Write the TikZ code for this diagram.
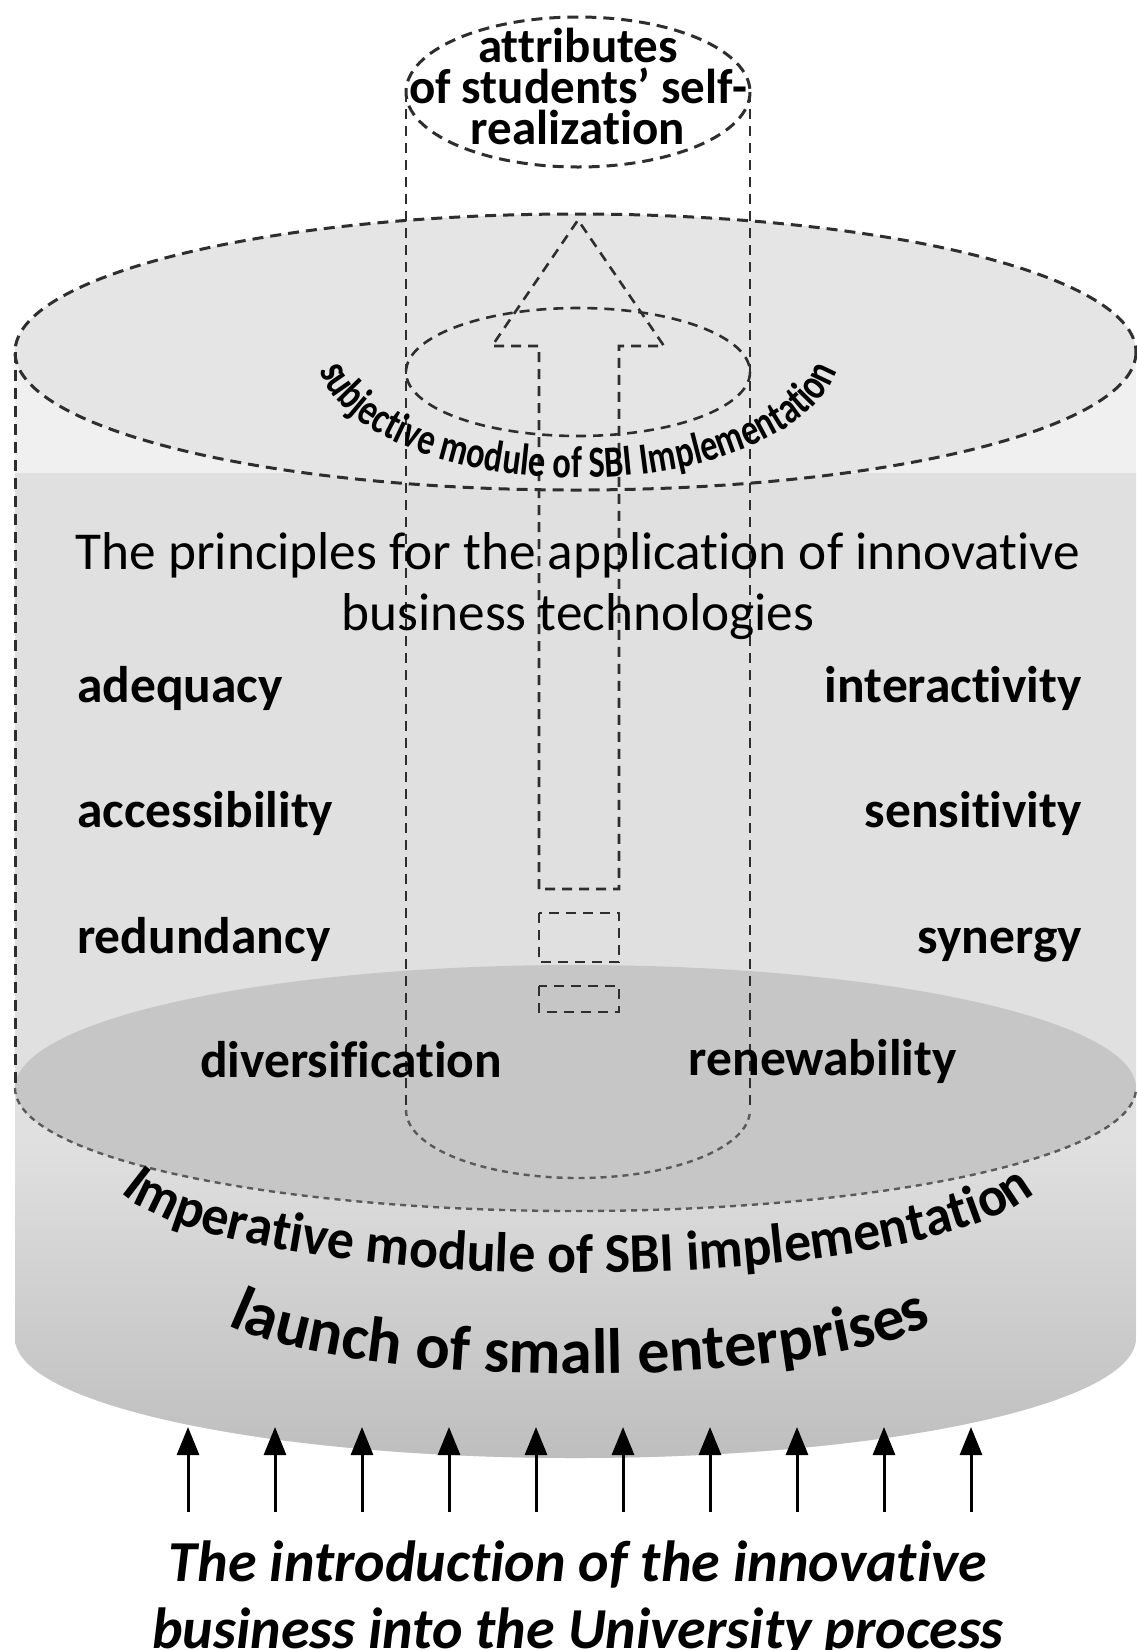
\documentclass[tikz,border=0pt]{standalone}
\usepackage{fontspec}
\setmainfont{Carlito}[Ligatures=NoCommon]
\newfontfamily\condA{Carlito}[FakeStretch=0.77,Ligatures=NoCommon]
\newfontfamily\condB{Carlito}[FakeStretch=0.96,Ligatures=NoCommon]
\newfontfamily\condC{Carlito}[Ligatures=NoCommon]
\usetikzlibrary{decorations.text,arrows.meta}
\definecolor{topfill}{HTML}{E5E5E5}
\definecolor{stripfill}{HTML}{F0F0F0}
\definecolor{bodyfill}{HTML}{E0E0E0}
\definecolor{darkfill}{HTML}{C6C6C6}
\definecolor{bottomfill}{HTML}{BEBEBE}
\definecolor{dashcol}{HTML}{2E2E2E}
\definecolor{lowcol}{HTML}{5A5A5A}
\newcommand{\curveA}{\condA\fontsize{44.5}{44.5}\bfseries\selectfont}
\newcommand{\curveB}{\condB\fontsize{56}{56}\bfseries\selectfont}
\newcommand{\curveC}{\condC\fontsize{64}{64}\bfseries\selectfont}
\begin{document}
\begin{tikzpicture}[x=1pt,y=-1pt,
  bigdash/.style={draw=dashcol,line width=3pt,dash pattern=on 11pt off 7pt},
  innerdash/.style={draw=dashcol,line width=2.6pt,dash pattern=on 10pt off 7pt},
  lowdash/.style={draw=lowcol,line width=2.4pt,dash pattern=on 6pt off 5pt},
  label/.style={font=\fontsize{51.5}{60}\bfseries\selectfont,inner sep=0pt},
  upar/.style={line width=3pt,-{Triangle[length=28pt,width=22pt]}}]
\useasboundingbox (0,0) rectangle (1136,1650);
% cylinder body
\fill[stripfill] (15,352) rectangle (1136,473);
\path[fill=bodyfill] (15,473) -- (15,1338) arc[start angle=180,end angle=0,x radius=560.5,y radius=120] -- (1136,473) -- cycle;
\begin{scope}
\clip (15,473) -- (15,1338) arc[start angle=180,end angle=0,x radius=560.5,y radius=120] -- (1136,473) -- cycle;
\shade[top color=bodyfill,bottom color=bottomfill] (0,1140) rectangle (1136,1460);
\end{scope}
% top ellipse
\draw[bigdash,fill=topfill] (575.5,352) ellipse[x radius=560.5,y radius=138];
% dark lower ellipse
\fill[darkfill] (575.5,1088) ellipse[x radius=560.5,y radius=123];
\draw[lowdash] (15,1088) arc[start angle=180,end angle=0,x radius=560.5,y radius=123];
\draw[bigdash] (15,352) -- (15,1088);
% inner cylinder
\draw[bigdash] (578,92) ellipse[x radius=172,y radius=75];
\draw[innerdash] (406,92) -- (406,1110);
\draw[innerdash] (750,92) -- (750,1110);
\draw[lowdash] (406,1110) arc[start angle=180,end angle=0,x radius=172,y radius=68];
\draw[innerdash] (578,372) ellipse[x radius=172,y radius=64];
% hollow arrow
\draw[innerdash] (539,889) -- (539,346) -- (492,346) -- (578,220) -- (664,346) -- (619,346) -- (619,889) -- cycle;
\draw[innerdash] (539,913) rectangle (619,962);
\draw[innerdash] (539,986) rectangle (619,1012);
% texts
\node[font=\fontsize{49}{41}\bfseries\selectfont,align=center,inner sep=0pt] (attr) at (578,86) {attributes\\of students’ self-\\realization};
\node[font=\fontsize{53.3}{61}\selectfont,align=center,inner sep=0pt] (principles) at (578,586) {The principles for the application of innovative\\business technologies};
\node[label,anchor=base west] (adequacy) at (77,702) {adequacy};
\node[label,anchor=base west] (accessibility) at (77,827) {accessibility};
\node[label,anchor=base west] (redundancy) at (77,953) {redundancy};
\node[label,anchor=base east] (interactivity) at (1082,702) {interactivity};
\node[label,anchor=base east] (sensitivity) at (1082,827) {sensitivity};
\node[label,anchor=base east] (synergy) at (1082,953) {synergy};
\node[label,anchor=base west] (diversification) at (200,1077) {diversification};
\node[label,anchor=base east] (renewability) at (957,1075) {renewability};
% curved texts
\path[decorate,decoration={text along path,text align=center,text={|\curveA|subjective module of SBI Implementation}}]
  (316,350) arc[start angle=180,end angle=0,x radius=262,y radius=128];
\path[decorate,decoration={text along path,text align=center,text={|\curveB|Imperative module of SBI implementation}}]
  (108,1168) arc[start angle=180,end angle=0,x radius=470,y radius=105];
\path[decorate,decoration={text along path,text align=center,text={|\curveC|launch of small enterprises}}]
  (195,1292) arc[start angle=180,end angle=0,x radius=385,y radius=82];
% input arrows
\foreach \i in {0,...,9}{
  \coordinate (s\i) at ({188+87*\i},1512);
  \coordinate (t\i) at ({188+87*\i},1427);
  \draw[upar] (s\i) -- (t\i);
}
\node[font=\fontsize{58}{67}\bfseries\itshape\selectfont,align=center,inner sep=0pt,anchor=base] (intro) at (578,1648) {The introduction of the innovative\\business into the University process};
\end{tikzpicture}
\end{document}
